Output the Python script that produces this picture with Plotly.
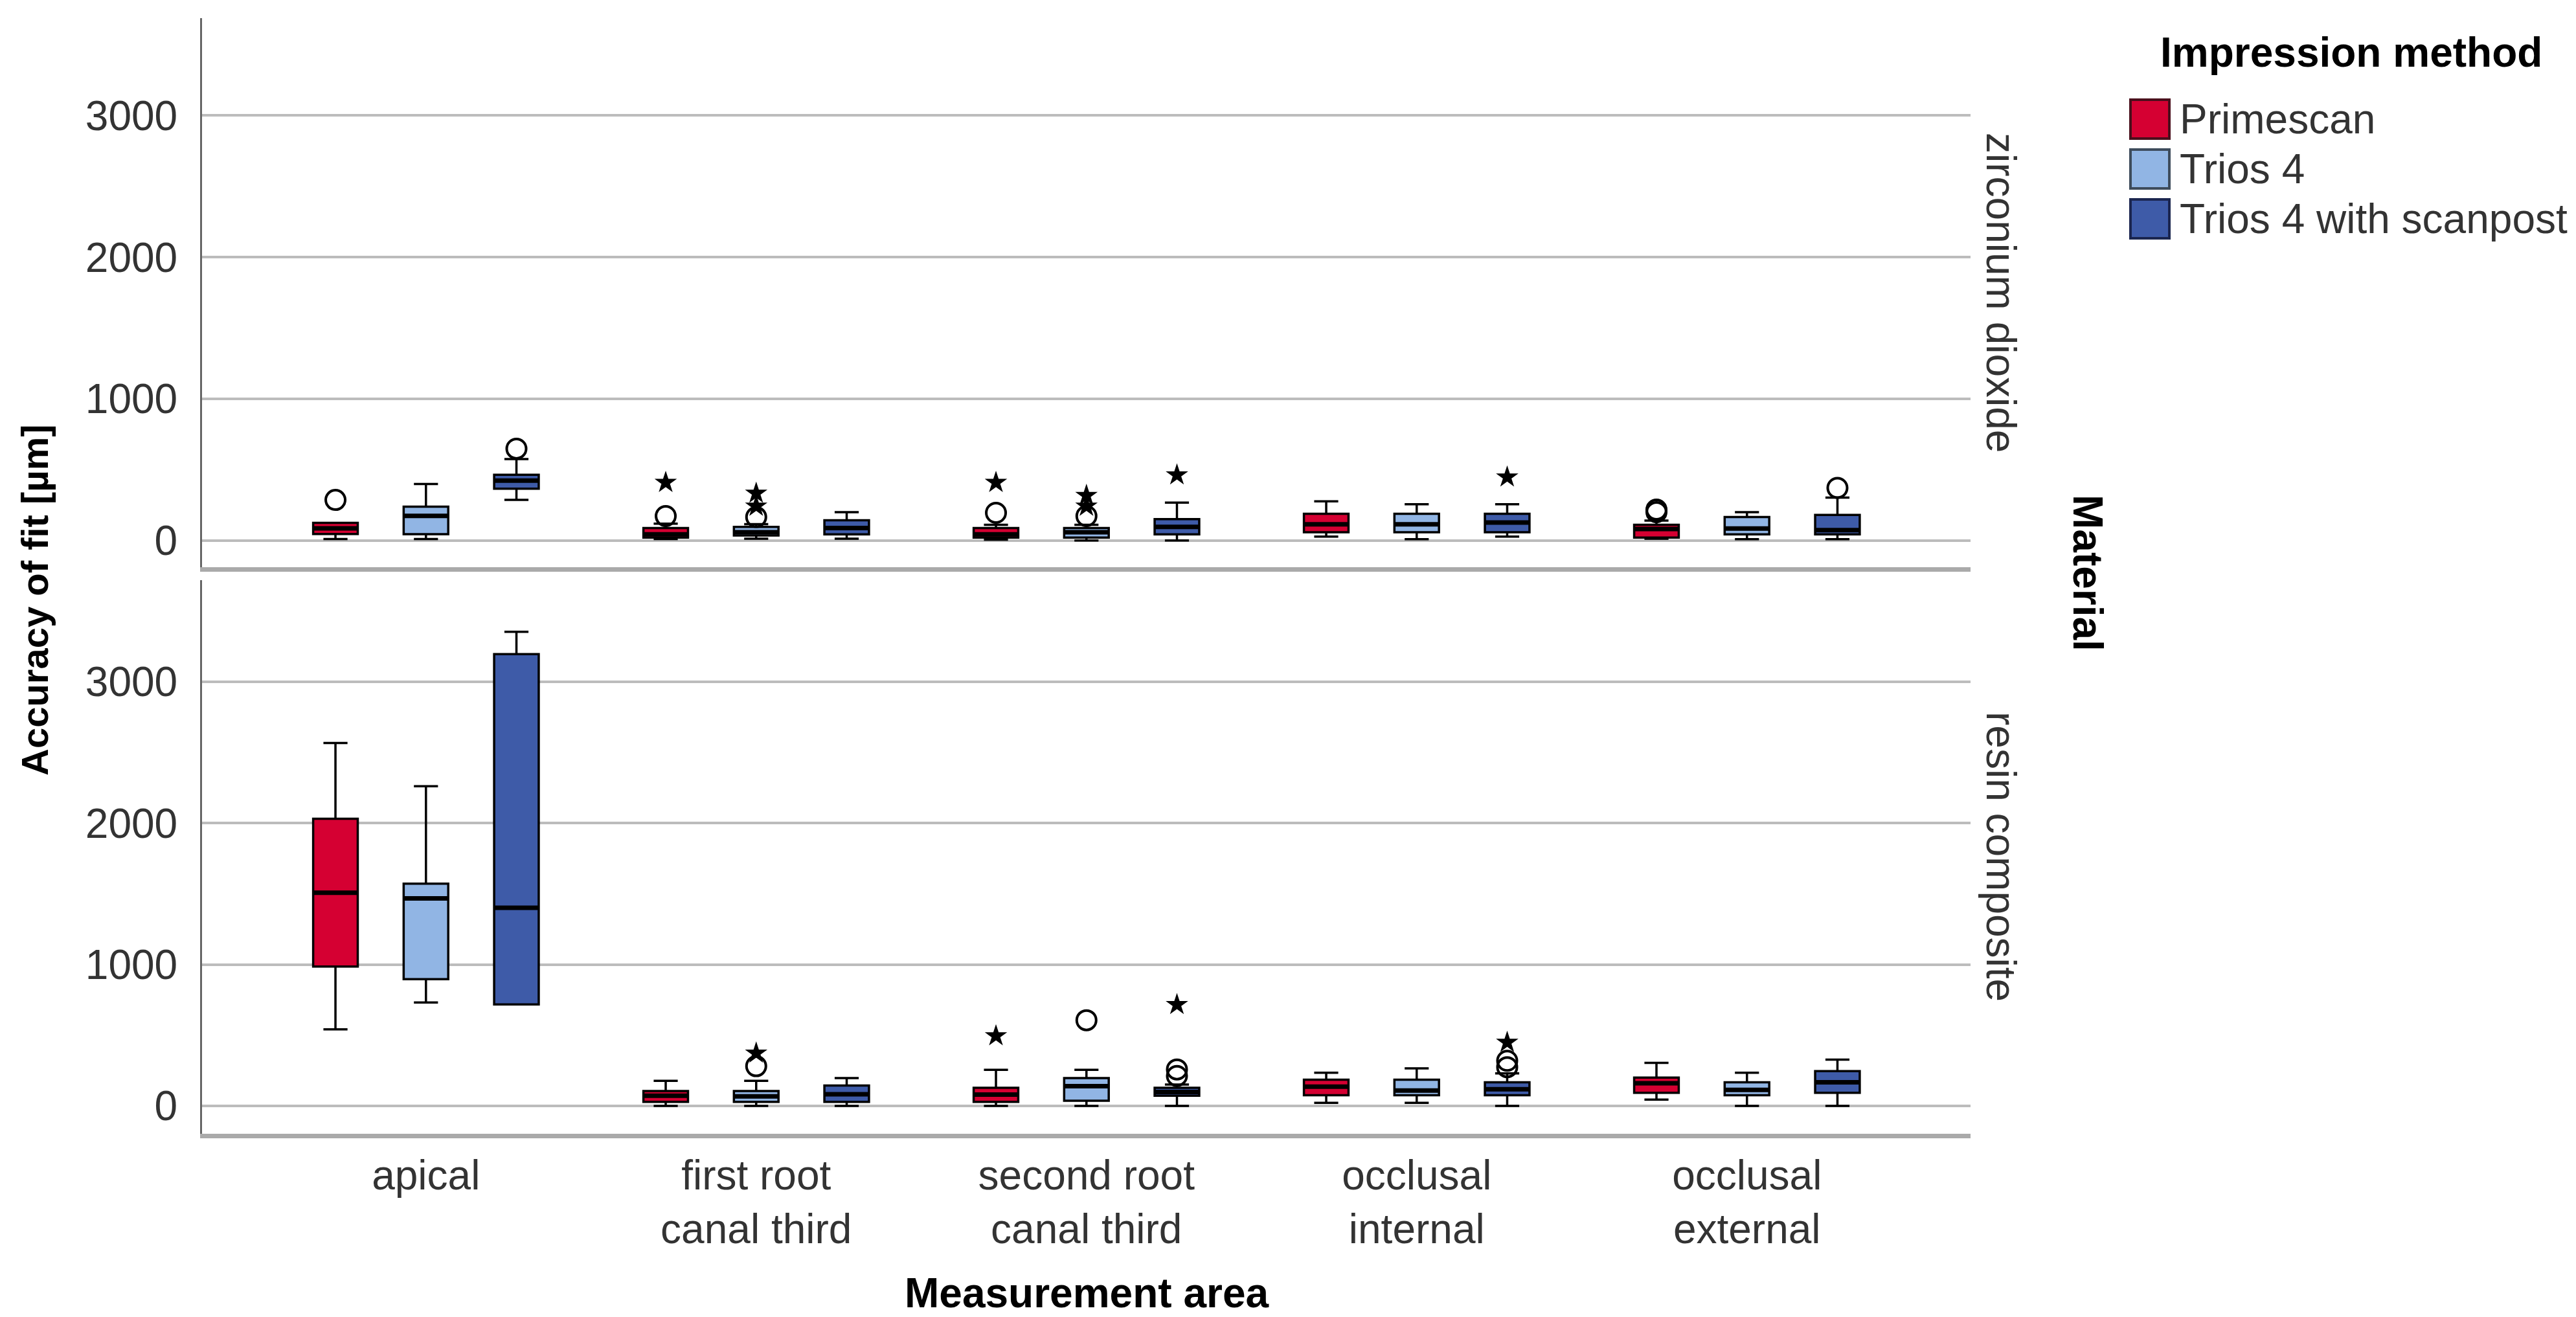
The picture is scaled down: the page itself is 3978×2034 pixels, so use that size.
import plotly.graph_objects as go

# ---------------- data ----------------
areas = ["apical", "first root<br>canal third", "second root<br>canal third",
         "occlusal<br>internal", "occlusal<br>external"]
methods = ["Primescan", "Trios 4", "Trios 4 with scanpost"]
materials = ["zirconium dioxide", "resin composite"]
colors = ["#d50032", "#91b5e4", "#3e5ba8"]

# zirconium dioxide: rows = methods, columns = areas
zr_lower = [[10, 10, 5, 27, 12], [10, 12, 0, 9, 9], [286, 12, 0, 27, 9]]
zr_q1 = [[45, 20, 20, 58, 20], [44, 35, 20, 58, 43], [365, 43, 43, 58, 43]]
zr_median = [[85, 43, 43, 114, 81], [173, 58, 58, 114, 84], [423, 88, 96, 127, 73]]
zr_q3 = [[124, 88, 88, 188, 111], [239, 96, 88, 188, 165], [464, 142, 150, 188, 180]]
zr_upper = [[124, 119, 111, 276, 140], [399, 115, 110, 256, 200], [575, 200, 267, 256, 302]]

# resin composite
rc_lower = [[541, 0, 0, 22, 44], [731, 0, 0, 22, 0], [718, 0, 0, 0, 0]]
rc_q1 = [[986, 29, 29, 75, 93], [896, 29, 37, 75, 75], [718, 29, 72, 75, 93]]
rc_median = [[1507, 72, 80, 136, 160], [1467, 67, 139, 109, 113], [1401, 82, 98, 118, 167]]
rc_q3 = [[2031, 105, 128, 185, 200], [1572, 105, 197, 185, 167], [3195, 144, 128, 167, 246]]
rc_upper = [[2566, 177, 255, 235, 304], [2261, 177, 255, 266, 235], [3353, 197, 151, 230, 327]]

# outliers: (method index, area index, value)
zr_circle_method = [0, 0, 0, 0, 0, 1, 1, 2, 2]
zr_circle_area = [0, 1, 2, 4, 4, 1, 2, 0, 4]
zr_circle_value = [286, 172, 195, 200, 218, 165, 172, 648, 371]
zr_star_method = [0, 0, 1, 1, 1, 1, 2, 2]
zr_star_area = [1, 2, 1, 1, 2, 2, 2, 3]
zr_star_value = [409, 409, 241, 333, 241, 317, 462, 447]

rc_circle_method = [1, 1, 2, 2, 2, 2]
rc_circle_area = [1, 2, 2, 2, 3, 3]
rc_circle_value = [281, 606, 212, 258, 274, 319]
rc_star_method = [1, 0, 2, 2]
rc_star_area = [1, 2, 2, 3]
rc_star_value = [373, 495, 716, 449]

yticks = [0, 1000, 2000, 3000]

# ---------------- figure ----------------
W, H = 3978, 2034
FONT = "Liberation Sans, Arial, sans-serif"
offsets = [-0.274, 0.0, 0.274]
BOX_W = 0.135

fig = go.Figure()

panels = [
    ("y", zr_lower, zr_q1, zr_median, zr_q3, zr_upper,
     (zr_circle_method, zr_circle_area, zr_circle_value),
     (zr_star_method, zr_star_area, zr_star_value)),
    ("y2", rc_lower, rc_q1, rc_median, rc_q3, rc_upper,
     (rc_circle_method, rc_circle_area, rc_circle_value),
     (rc_star_method, rc_star_area, rc_star_value)),
]

for yax, lo, q1, med, q3, up, circ, star in panels:
    xax = "x" if yax == "y" else "x2"
    for m, name in enumerate(methods):
        xs = [i + offsets[m] for i in range(len(areas))]
        fig.add_trace(go.Box(
            x=xs, q1=q1[m], median=med[m], q3=q3[m],
            lowerfence=lo[m], upperfence=up[m],
            width=BOX_W, whiskerwidth=0.54,
            fillcolor=colors[m],
            line=dict(color="#000000", width=3.5),
            name=name, showlegend=False, boxpoints=False,
            xaxis=xax, yaxis=yax,
        ))
        # thicker median bars (SPSS style), drawn from the same medians
        mx, my = [], []
        for xi, mv in zip(xs, med[m]):
            mx += [xi - BOX_W / 2, xi + BOX_W / 2, None]
            my += [mv, mv, None]
        fig.add_trace(go.Scatter(
            x=mx, y=my, mode="lines", showlegend=False, hoverinfo="skip",
            line=dict(color="#000000", width=7),
            xaxis=xax, yaxis=yax,
        ))
    cm, ca, cv = circ
    fig.add_trace(go.Scatter(
        x=[a + offsets[m] for m, a in zip(cm, ca)], y=cv,
        mode="markers", showlegend=False,
        marker=dict(symbol="circle-open", size=30, color="#000000",
                    line=dict(width=4, color="#000000")),
        xaxis=xax, yaxis=yax,
    ))
    sm, sa, sv = star
    fig.add_trace(go.Scatter(
        x=[a + offsets[m] for m, a in zip(sm, sa)], y=sv,
        mode="markers", showlegend=False,
        marker=dict(symbol="star", size=26, color="#000000",
                    line=dict(width=0)),
        xaxis=xax, yaxis=yax,
    ))

xdom = [304 / W, 3035 / W]
top_dom = [1 - 868 / H, 1 - 20 / H]
bot_dom = [1 - 1743 / H, 1 - 888 / H]
xrange_ = [-0.678, 4.677]

axis_font = dict(family=FONT, size=64, color="#333333")

common_y = dict(
    tickvals=yticks, ticktext=[str(v) for v in yticks],
    showgrid=True, gridcolor="#bcbcbc", gridwidth=4,
    zeroline=False, showline=True, linecolor="#666666", linewidth=3,
    ticks="", tickfont=axis_font, ticklabelstandoff=22,
)
common_x = dict(
    range=xrange_, showgrid=False, zeroline=False,
    showline=True, linecolor="#aaaaaa", linewidth=7,
    ticks="", tickvals=list(range(len(areas))), ticktext=areas,
    tickfont=axis_font,
)

fig.update_layout(
    width=W, height=H,
    margin=dict(l=0, r=0, t=0, b=0),
    paper_bgcolor="white", plot_bgcolor="white",
    font=dict(family=FONT, size=64, color="#333333"),
    showlegend=False,
    boxmode="overlay",
    xaxis=dict(domain=xdom, anchor="y", showticklabels=False, **common_x),
    yaxis=dict(domain=top_dom, anchor="x", range=[-189, 3688], **common_y),
    xaxis2=dict(domain=xdom, anchor="y2", showticklabels=True,
                ticklabelstandoff=2, **common_x),
    yaxis2=dict(domain=bot_dom, anchor="x2", range=[-197, 3718], **common_y),
)

annotations = [
    dict(text="zirconium dioxide", x=3082 / W, y=1 - 444 / H, textangle=90,
         font=dict(family=FONT, size=64, color="#333333")),
    dict(text="resin composite", x=3082 / W, y=1 - 1315 / H, textangle=90,
         font=dict(family=FONT, size=64, color="#333333")),
    dict(text="<b>Material</b>", x=3216 / W, y=1 - 877 / H, textangle=90,
         font=dict(family=FONT, size=64, color="#000000")),
    dict(text="<b>Accuracy of fit [µm]</b>", x=45 / W, y=1 - 919 / H, textangle=-90,
         font=dict(family=FONT, size=58, color="#000000")),
    dict(text="<b>Measurement area</b>", x=1670 / W, y=1 - 1989 / H,
         font=dict(family=FONT, size=64, color="#000000")),
    dict(text="<b>Impression method</b>", x=3623 / W, y=1 - 73 / H,
         font=dict(family=FONT, size=64, color="#000000")),
]
for a in annotations:
    a.update(xref="paper", yref="paper", showarrow=False,
             xanchor="center", yanchor="middle")
    fig.add_annotation(**a)

# manual legend swatches
legend_rows = [176, 253, 330]
swatch_border = ["#4a0f1c", "#3e4c5c", "#1b2650"]
for m, name in enumerate(methods):
    yc = legend_rows[m]
    fig.add_shape(type="rect", xref="paper", yref="paper",
                  x0=3282 / W, x1=3342 / W,
                  y0=1 - (yc + 30) / H, y1=1 - (yc - 30) / H,
                  fillcolor=colors[m], line=dict(color=swatch_border[m], width=4))
    fig.add_annotation(text=name, xref="paper", yref="paper",
                       x=3356 / W, y=1 - yc / H, xanchor="left", yanchor="middle",
                       showarrow=False,
                       font=dict(family=FONT, size=64, color="#333333"))

fig.write_html("out.html")
